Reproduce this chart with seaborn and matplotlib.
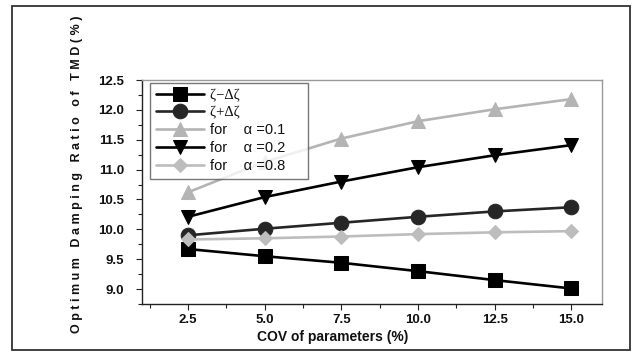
import matplotlib
matplotlib.use("Agg")
import matplotlib.pyplot as plt
from matplotlib.patches import Rectangle
from matplotlib.ticker import MultipleLocator
import numpy as np
import pandas as pd
import seaborn as sns

# COV of parameters (%)
cov = [2.5, 5.0, 7.5, 10.0, 12.5, 15.0]

# Optimum damping ratio of TMD (%) for each case
zeta_minus = [9.67, 9.55, 9.44, 9.30, 9.15, 9.01]
zeta_plus = [9.90, 10.01, 10.11, 10.21, 10.30, 10.37]
alpha_01 = [10.62, 11.13, 11.52, 11.81, 12.01, 12.18]
alpha_02 = [10.21, 10.54, 10.80, 11.04, 11.24, 11.41]
alpha_08 = [9.83, 9.85, 9.88, 9.92, 9.95, 9.97]

labels = ["ζ−Δζ", "ζ+Δζ", "for    α =0.1", "for    α =0.2", "for    α =0.8"]
series = [zeta_minus, zeta_plus, alpha_01, alpha_02, alpha_08]

styles = [
    dict(color="#000000", marker="s", markersize=10),
    dict(color="#262626", marker="o", markersize=10.5),
    dict(color="#b4b4b4", marker="^", markersize=9.5),
    dict(color="#000000", marker="v", markersize=9.5),
    dict(color="#bdbdbd", marker="D", markersize=7.5),
]

df = pd.DataFrame({
    "cov": np.tile(cov, len(series)),
    "value": np.concatenate(series),
    "case": np.repeat(labels, len(cov)),
})

sns.set_theme(style="white")
plt.rcParams["font.family"] = ["Liberation Sans", "DejaVu Sans"]

fig = plt.figure(figsize=(6.32, 3.52), dpi=100)
ax = fig.add_axes([142 / 632, 1 - 304 / 352, 460 / 632, 224 / 352])

for lab, st in zip(labels, styles):
    sub = df[df["case"] == lab]
    sns.lineplot(data=sub, x="cov", y="value", ax=ax, label=lab + "    ",
                 color=st["color"], marker=st["marker"],
                 markersize=st["markersize"], markeredgecolor=st["color"],
                 linewidth=1.9, zorder=3)

ax.set_xlim(1.0, 16.0)
ax.set_ylim(8.75, 12.5)
ax.xaxis.set_major_locator(MultipleLocator(2.5))
ax.xaxis.set_minor_locator(MultipleLocator(1.25))
ax.yaxis.set_major_locator(MultipleLocator(0.5))
ax.yaxis.set_minor_locator(MultipleLocator(0.25))
ax.set_xticks(cov)
ax.set_xticklabels([f"{v:.1f}" for v in cov])
yt = np.arange(9.0, 12.51, 0.5)
ax.set_yticks(yt)
ax.set_yticklabels([f"{v:.1f}" for v in yt])

ax.tick_params(axis="both", which="both", direction="out", colors="#222222",
               labelcolor="#111111", labelsize=9.5)
ax.tick_params(axis="x", which="major", length=4, width=0.8, pad=3)
ax.tick_params(axis="x", which="minor", length=3, width=0.8)
ax.tick_params(axis="y", which="major", length=4, width=0.8, pad=9)
ax.tick_params(axis="y", which="minor", length=3, width=0.8)
ax.tick_params(left=True, bottom=True, which="both")
for t in ax.get_xticklabels() + ax.get_yticklabels():
    t.set_fontweight("bold")

for side in ["left", "bottom"]:
    ax.spines[side].set_color("#222222")
    ax.spines[side].set_linewidth(1.0)
for side in ["top", "right"]:
    ax.spines[side].set_color("#9a9a9a")
    ax.spines[side].set_linewidth(1.0)

ax.set_xlabel("COV of parameters (%)", fontsize=10, fontweight="bold", color="#111111")
ax.xaxis.set_label_coords(0.415, -0.118)
ax.set_ylabel("O p t i m u m   D a m p i n g   R a t i o   o f   T M D ( % )",
              fontsize=9, fontweight="bold", color="#111111")
ax.yaxis.set_label_coords(-0.128, 0.58)

leg = ax.legend(loc="upper left", bbox_to_anchor=(0.017, 0.987), fontsize=10.5,
                frameon=True, fancybox=False, handlelength=3.3, handletextpad=0.45,
                labelspacing=0.28, borderpad=0.4, borderaxespad=0.0)
leg.get_frame().set_edgecolor("#555555")
leg.get_frame().set_linewidth(1.0)
for i, t in enumerate(leg.get_texts()):
    t.set_color("#111111")
    if i < 2:
        t.set_family(["Liberation Serif", "DejaVu Serif"])

# Outer frame around the whole figure
fig.add_artist(Rectangle((12 / 632, 1 - 350 / 352), 618 / 632, 344 / 352,
                         transform=fig.transFigure, fill=False,
                         edgecolor="#333333", linewidth=1.3))

fig.savefig("out.png", dpi=100)
